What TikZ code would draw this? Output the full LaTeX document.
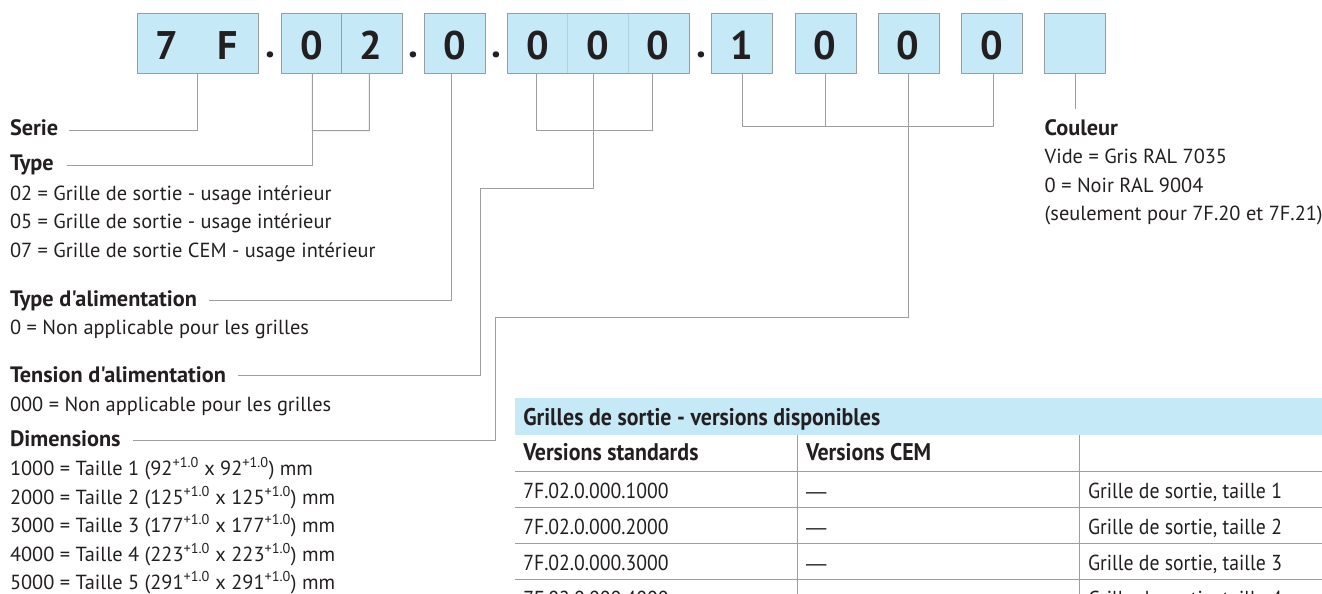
\documentclass[tikz,border=0pt]{standalone}
\usepackage{fontspec}
\setmainfont{PT Sans}[Ligatures=TeXOff]
\newfontfamily\dashfont{Liberation Sans}
\definecolor{boxblue}{RGB}{198,233,248}
\definecolor{boxgray}{RGB}{150,158,165}
\definecolor{faintdiv}{RGB}{180,208,225}
\definecolor{linegray}{RGB}{158,158,158}
\definecolor{txt}{RGB}{35,31,32}
\newlength\calw
\AtBeginDocument{%
  \settowidth\calw{\fontsize{10pt}{12pt}\selectfont 0 = Non applicable pour les grilles}%
  \pgfmathsetmacro\rs{10*299/\calw}%
  \settowidth\calw{\fontsize{10pt}{12pt}\selectfont\bfseries Tension d'alimentation}%
  \pgfmathsetmacro\bs{10*216/\calw}%
  \settowidth\calw{\fontsize{10pt}{12pt}\selectfont Grille de sortie, taille 1}%
  \pgfmathsetmacro\ts{10*194/0.91/\calw}%
  \settowidth\calw{\fontsize{10pt}{12pt}\selectfont\bfseries Grilles de sortie - versions disponibles}%
  \pgfmathsetmacro\tbs{10*357/0.91/\calw}%
  \settoheight\calw{\fontsize{10pt}{12pt}\selectfont\bfseries 0}%
  \pgfmathsetmacro\ds{10*28.5/\calw}%
}
\newcommand\cond[1]{\scalebox{0.91}[1]{#1}}
\tikzset{
  digitbox/.style={draw=boxgray, fill=boxblue, line width=1pt, minimum height=60pt, inner sep=0pt, outer sep=0pt},
  digit/.style={anchor=base, inner sep=0pt, outer sep=0pt, text=txt, font=\fontsize{\ds pt}{\ds pt}\selectfont\bfseries},
  conn/.style={draw=linegray, line width=1pt},
  tline/.style={draw=linegray, line width=1.3pt},
  regtext/.style={anchor=base west, inner sep=0pt, outer sep=0pt, text=txt, font=\fontsize{\rs pt}{\rs pt}\selectfont},
  boldtext/.style={regtext, font=\fontsize{\bs pt}{\bs pt}\selectfont\bfseries},
  tabtext/.style={regtext, font=\fontsize{\ts pt}{\ts pt}\selectfont},
  tabbold/.style={regtext, font=\fontsize{\tbs pt}{\tbs pt}\selectfont\bfseries},
  tabdash/.style={regtext, font=\fontsize{\rs pt}{\rs pt}\dashfont},
}
\begin{document}
\begin{tikzpicture}[x=1pt,y=-1pt]
\useasboundingbox (0,0) rectangle (1322,594);
\clip (0,0) rectangle (1322,594);

% --- code boxes ---
\node[digitbox, minimum width=121pt] (b7F) at (197.8,43.3) {};
\node[digitbox, minimum width=60.5pt] (c02a) at (311.25,43.3) {};
\node[digitbox, minimum width=60.5pt] (c02b) at (371.75,43.3) {};
\node[digitbox, minimum width=60.7pt] (b0) at (454.65,43.3) {};
\node[digitbox, draw=faintdiv, minimum width=60.67pt] (c3a) at (537.63,43.3) {};
\node[digitbox, draw=faintdiv, minimum width=60.67pt] (c3b) at (598.3,43.3) {};
\node[digitbox, draw=faintdiv, minimum width=60.67pt] (c3c) at (658.97,43.3) {};
\node[digitbox, fill=none, minimum width=182pt] (b000) at (598.3,43.3) {};
\node[digitbox, minimum width=61pt] (b1) at (742.2,43.3) {};
\node[digitbox, minimum width=61pt] (b0a) at (825.5,43.3) {};
\node[digitbox, minimum width=61pt] (b0b) at (908.5,43.3) {};
\node[digitbox, minimum width=61pt] (b0c) at (991.8,43.3) {};
\node[digitbox, minimum width=61pt] (bE) at (1074.8,43.3) {};

% --- digits and dots ---
\node[digit] (d7) at (167,59.7) {7};
\node[digit] (dF) at (228,59.7) {F};
\node[digit] (p1) at (270.7,58) {.};
\node[digit] (d0a) at (311.7,59.7) {0};
\node[digit] (d2) at (370.7,59.7) {2};
\node[digit] (p2) at (413,58) {.};
\node[digit] (d0b) at (455,59.7) {0};
\node[digit] (p3) at (496.7,58) {.};
\node[digit] (d0c) at (537.7,59.7) {0};
\node[digit] (d0d) at (597.7,59.7) {0};
\node[digit] (d0e) at (657.7,59.7) {0};
\node[digit] (p4) at (701,58) {.};
\node[digit] (d1) at (742.3,59.7) {1};
\node[digit] (d0f) at (825,59.7) {0};
\node[digit] (d0g) at (908.3,59.7) {0};
\node[digit] (d0h) at (991.7,59.7) {0};

% --- left labels ---
\node[boldtext] (serie) at (10,135) {Serie};
\node[boldtext] (type) at (10,170.5) {Type};
\node[regtext] (t02) at (10,200) {02 = Grille de sortie - usage intérieur};
\node[regtext] (t05) at (10,228.5) {05 = Grille de sortie - usage intérieur};
\node[regtext] (t07) at (10,257) {07 = Grille de sortie CEM - usage intérieur};
\node[boldtext] (talim) at (10,306) {Type d'alimentation};
\node[regtext] (talim0) at (10,334) {0 = Non applicable pour les grilles};
\node[boldtext] (tens) at (10,382.3) {Tension d'alimentation};
\node[regtext] (tens0) at (10,411.3) {000 = Non applicable pour les grilles};
\node[boldtext] (dims) at (10,446.7) {Dimensions};
\node[regtext] (dim1) at (10,475.5) {1000 = Taille 1 (92\textsuperscript{+1.0} x 92\textsuperscript{+1.0}) mm};
\node[regtext] (dim2) at (10,504) {2000 = Taille 2 (125\textsuperscript{+1.0} x 125\textsuperscript{+1.0}) mm};
\node[regtext] (dim3) at (10,532.5) {3000 = Taille 3 (177\textsuperscript{+1.0} x 177\textsuperscript{+1.0}) mm};
\node[regtext] (dim4) at (10,561) {4000 = Taille 4 (223\textsuperscript{+1.0} x 223\textsuperscript{+1.0}) mm};
\node[regtext] (dim5) at (10,589.5) {5000 = Taille 5 (291\textsuperscript{+1.0} x 291\textsuperscript{+1.0}) mm};

% --- right labels ---
\node[boldtext] (coul) at (1044.7,135) {Couleur};
\node[regtext] (coul1) at (1044.7,163.5) {Vide = Gris RAL 7035};
\node[regtext] (coul2) at (1044.7,192) {0 = Noir RAL 9004};
\node[regtext] (coul3) at (1044.7,220.5) {(seulement pour 7F.20 et 7F.21)};

% --- connector end points ---
\coordinate (cSerie) at (69,130.7);
\coordinate (jType) at (312.3,130.7);
\coordinate (cType) at (66.7,165.7);
\coordinate (cTA) at (209,300);
\coordinate (j000) at (593.3,130.7);
\coordinate (k000) at (593.3,188);
\coordinate (m000) at (480,375.7);
\coordinate (cTension) at (237.7,375.7);
\coordinate (j1000) at (908.3,126.7);
\coordinate (k1000) at (908.3,317.7);
\coordinate (m1000) at (495.7,440.7);
\coordinate (cDim) at (133.3,440.7);
\coordinate (cCoul) at (1075.7,109.3);

% --- connectors ---
\draw[conn] (b7F.south) |- (cSerie);
\draw[conn] ([xshift=1pt]c02a.south) -- (jType) -| ([xshift=-2.4pt]c02b.south);
\draw[conn] (jType) |- (cType);
\draw[conn] ([xshift=-3pt]b0.south) |- (cTA);
\draw[conn] ([xshift=-1.6pt]c3a.south) |- (j000) -| ([xshift=-6.6pt]c3c.south);
\draw[conn] ([xshift=-5pt]c3b.south) -- (j000) -- (k000) -| (m000) -- (cTension);
\draw[conn] (b1.south) |- (j1000) -| ([xshift=1.2pt]b0c.south);
\draw[conn] (b0a.south) -- (b0a.south |- j1000);
\draw[conn] ([xshift=-0.2pt]b0b.south) -- (j1000) -- (k1000) -| (m1000) -- (cDim);
\draw[conn] ([xshift=0.9pt]bE.south) -- (cCoul);

% --- table ---
\fill[boxblue] (515,398) rectangle (1322,434.7);
\draw[tline] (515,471.3) -- (1322,471.3);
\draw[tline] (515,507.3) -- (1322,507.3);
\draw[tline] (515,543.3) -- (1322,543.3);
\draw[tline] (515,579.7) -- (1322,579.7);
\draw[tline] (797.3,434.7) -- (797.3,600);
\draw[tline] (1079.3,434.7) -- (1079.3,600);

\node[tabbold] (th) at (523.3,425.7) {\cond{Grilles de sortie - versions disponibles}};
\node[tabbold] (h1) at (523.3,460.7) {\cond{Versions standards}};
\node[tabbold] (h2) at (806,460.7) {\cond{Versions CEM}};

\node[tabtext] (r1a) at (523.3,498) {\cond{7F.02.0.000.1000}};
\node[tabdash] (r1b) at (806,498) {—};
\node[tabtext] (r1c) at (1088,498) {\cond{Grille de sortie, taille 1}};
\node[tabtext] (r2a) at (523.3,534) {\cond{7F.02.0.000.2000}};
\node[tabdash] (r2b) at (806,534) {—};
\node[tabtext] (r2c) at (1088,534) {\cond{Grille de sortie, taille 2}};
\node[tabtext] (r3a) at (523.3,570) {\cond{7F.02.0.000.3000}};
\node[tabdash] (r3b) at (806,570) {—};
\node[tabtext] (r3c) at (1088,570) {\cond{Grille de sortie, taille 3}};
\node[tabtext] (r4a) at (523.3,606) {\cond{7F.02.0.000.4000}};
\node[tabdash] (r4b) at (806,606) {—};
\node[tabtext] (r4c) at (1088,606) {\cond{Grille de sortie, taille 4}};
\end{tikzpicture}
\end{document}
